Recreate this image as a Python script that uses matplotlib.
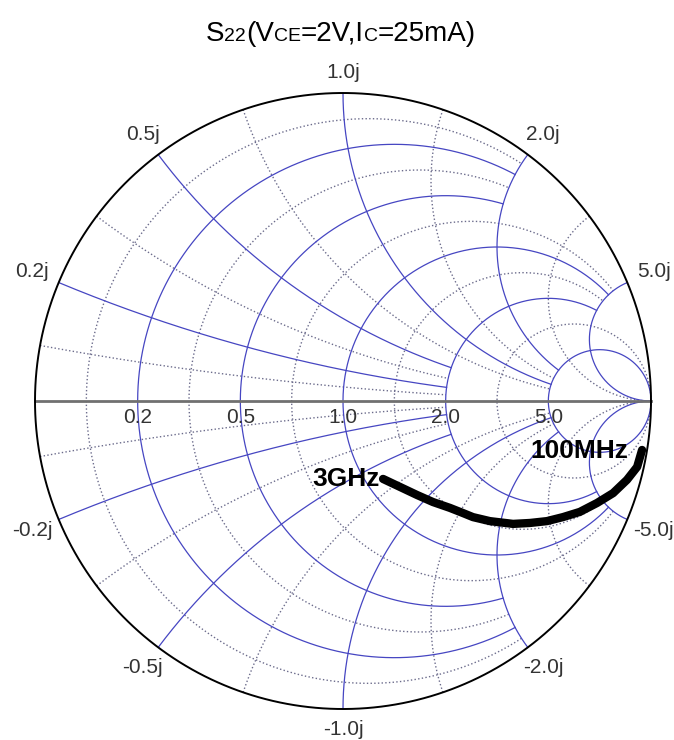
import numpy as np
import matplotlib
matplotlib.use("Agg")
import matplotlib.pyplot as plt
from matplotlib.offsetbox import TextArea, HPacker, AnnotationBbox

plt.rcParams['font.family'] = ['Liberation Sans', 'DejaVu Sans']

# S22 measured sweep, 100MHz -> 3GHz (real / imag of the reflection coefficient)
s22_re = [0.971, 0.955, 0.922, 0.877, 0.825, 0.769, 0.714, 0.662, 0.607, 0.552,
          0.477, 0.422, 0.390, 0.347, 0.292, 0.240, 0.185, 0.130]
s22_im = [-0.159, -0.214, -0.256, -0.299, -0.331, -0.360, -0.377, -0.390, -0.396, -0.399,
          -0.390, -0.377, -0.364, -0.347, -0.328, -0.305, -0.279, -0.253]
freq_start = '100MHz'
freq_stop = '3GHz'

# grid values and where each line stops (reactance limit for r circles, resistance limit for x arcs)
main_vals = [0.2, 0.5, 1.0, 2.0, 5.0]
main_lims = [2.0, 2.0, 5.0, 5.0, np.inf]
sub_vals = [1 / 11, 1 / 3, 5 / 7, 1.4, 3.0]
sub_lims = [2.0, 2.0, 5.0, 5.0, np.inf]


def r_circle(r, xmax, n=600):
    pmax = np.arctan(xmax / (r + 1)) if np.isfinite(xmax) else np.pi / 2 - 1e-6
    phi = np.linspace(-pmax, pmax, n)
    z = r + 1j * (r + 1) * np.tan(phi)
    g = (z - 1) / (z + 1)
    return g.real, g.imag


def x_arc(x, rmax, n=600):
    p0 = np.arctan(x)
    p1 = np.arctan(x / (rmax + 1)) if np.isfinite(rmax) else 1e-6 * np.sign(x)
    psi = np.linspace(p0, p1, n)
    w = x / np.tan(psi)
    z = (w - 1) + 1j * x
    g = (z - 1) / (z + 1)
    return g.real, g.imag


# pixel layout: centre (343, 401), radius 308 on a 674x740 canvas
W, H, CX, CY, R = 674, 740, 343, 401, 308
fig = plt.figure(figsize=(W / 100, H / 100), dpi=100)
ax = fig.add_axes([0, 0, 1, 1])
ax.set_xlim(-CX / R, (W - CX) / R)
ax.set_ylim(-(H - CY) / R, CY / R)
ax.axis('off')

main_kw = dict(color='#4646c2', lw=0.9, zorder=2)
sub_kw = dict(color='#6c6c8c', lw=1.0, ls=':', zorder=1)

for v, lim in zip(sub_vals, sub_lims):
    ax.plot(*r_circle(v, lim), **sub_kw)
    for s in (1, -1):
        ax.plot(*x_arc(s * v, lim), **sub_kw)

for v, lim in zip(main_vals, main_lims):
    ax.plot(*r_circle(v, lim), **main_kw)
    for s in (1, -1):
        ax.plot(*x_arc(s * v, lim), **main_kw)

# real axis and outer boundary
ax.plot([-1, 1], [0, 0], color='#707070', lw=2.0, zorder=3)
t = np.linspace(0, 2 * np.pi, 800)
ax.plot(np.cos(t), np.sin(t), color='black', lw=1.4, zorder=4)

# resistance labels along the real axis
for v in main_vals:
    ax.text((v - 1) / (v + 1), -7 / R, f'{v:.1f}', ha='center', va='top',
            fontsize=15, color='#333333', zorder=5)

# reactance labels round the rim
for v in main_vals:
    for s in (1, -1):
        th = s * (np.pi - 2 * np.arctan(v))
        rad = 1.065 + 0.03 * abs(np.cos(th))
        txt = f'{v:.1f}j' if s > 0 else f'-{v:.1f}j'
        ax.text(rad * np.cos(th), rad * np.sin(th), txt, ha='center', va='center',
                fontsize=15, color='#333333', zorder=5)

# the S22 trace
ax.plot(s22_re, s22_im, color='black', lw=6, solid_capstyle='round',
        solid_joinstyle='round', zorder=6)
ax.text(s22_re[0] - 14 / R, s22_im[0] - 1 / R, freq_start, ha='right', va='center',
        fontsize=19, fontweight='bold', zorder=7)
ax.text(s22_re[-1] - 3 / R, s22_im[-1], freq_stop, ha='right', va='center',
        fontsize=19, fontweight='bold', zorder=7)

# title with subscripts
big = dict(fontsize=20)
small = dict(fontsize=14)
parts = [('S', big), ('22', small), ('(V', big), ('CE', small), ('=2V,I', big),
         ('C', small), ('=25mA)', big)]
pack = HPacker(children=[TextArea(s, textprops=p) for s, p in parts],
               align='baseline', pad=0, sep=0)
ab = AnnotationBbox(pack, (341 / W, 1 - 34 / H), xycoords='figure fraction',
                    frameon=False, box_alignment=(0.5, 0.5))
fig.add_artist(ab)

fig.savefig('out.png', dpi=100)
